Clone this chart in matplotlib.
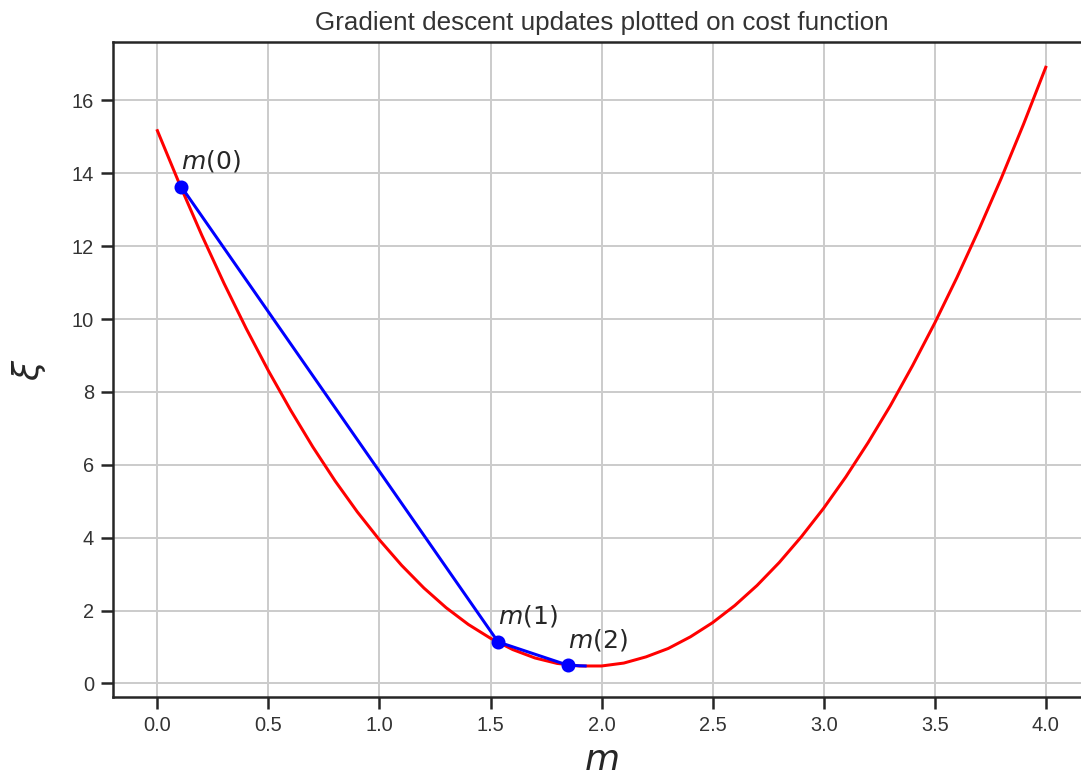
import numpy as np
import matplotlib
matplotlib.use("Agg")
import matplotlib.pyplot as plt

# cost curve, m = 0.0 .. 4.0 in steps of 0.1
m_vals = [0.0, 0.1, 0.2, 0.3, 0.4, 0.5, 0.6, 0.7, 0.8, 0.9,
          1.0, 1.1, 1.2, 1.3, 1.4, 1.5, 1.6, 1.7, 1.8, 1.9,
          2.0, 2.1, 2.2, 2.3, 2.4, 2.5, 2.6, 2.7, 2.8, 2.9,
          3.0, 3.1, 3.2, 3.3, 3.4, 3.5, 3.6, 3.7, 3.8, 3.9, 4.0]
cost_vals = [15.17, 13.70, 12.30, 10.98, 9.74, 8.58, 7.50, 6.49, 5.56, 4.71,
             3.94, 3.24, 2.62, 2.08, 1.62, 1.24, 0.93, 0.70, 0.55, 0.48,
             0.48, 0.56, 0.73, 0.96, 1.28, 1.67, 2.14, 2.69, 3.32, 4.03,
             4.81, 5.67, 6.61, 7.62, 8.72, 9.89, 11.14, 12.47, 13.87, 15.35, 16.91]

# gradient descent steps
step_m    = [0.108, 1.534, 1.849, 1.926]
step_cost = [13.63, 1.14, 0.50, 0.48]
step_labels = ["$m(0)$", "$m(1)$", "$m(2)$"]

plt.rcParams["font.family"] = ["Liberation Sans", "DejaVu Sans"]

fig = plt.figure(figsize=(1081 / 144, 780 / 144), dpi=144)
ax = fig.add_axes([0.1045, 0.106, 0.904, 0.84])

ax.plot(m_vals, cost_vals, color="red", lw=1.5)
ax.plot(step_m, step_cost, color="blue", lw=1.5)
ax.plot(step_m[:3], step_cost[:3], "o", color="blue", ms=6)
for x, y, lab in zip(step_m, step_cost, step_labels):
    ax.annotate(lab, (x, y), xytext=(0, 9), textcoords="offset points",
                fontsize=12.5, color="#262626")

ax.set_xlim(-0.2, 4.2)
ax.set_ylim(-0.38, 17.6)
ax.set_xticks(np.arange(0, 4.01, 0.5))
ax.set_yticks(np.arange(0, 17, 2))
ax.grid(True, color="#cccccc", lw=1)
ax.set_axisbelow(True)
for s in ax.spines.values():
    s.set_color("#262626")
    s.set_linewidth(1.25)
ax.tick_params(direction="out", length=6, width=1.25, color="#262626",
               labelsize=10, labelcolor="#333333")

ax.set_title("Gradient descent updates plotted on cost function",
             fontsize=13, color="#333333")
ax.set_xlabel("$m$", fontsize=18, color="#262626")
ax.set_ylabel(r"$\xi$", fontsize=18, color="#262626", labelpad=12)

fig.savefig("out.png", dpi=144)
